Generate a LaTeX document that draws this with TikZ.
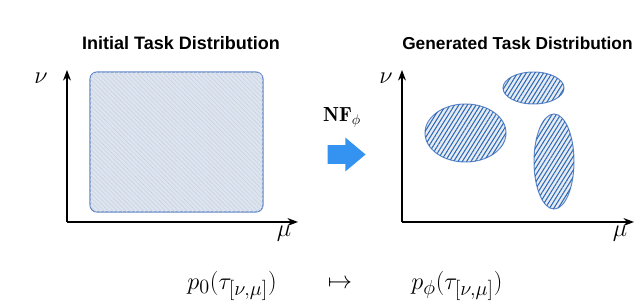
\documentclass[tikz,border=0pt]{standalone}
\usepackage{amsmath}
\usepackage{fontspec}
\newfontfamily\titlefont{Liberation Sans}
\usetikzlibrary{positioning,arrows.meta,shapes.geometric,shapes.arrows,patterns.meta}
\definecolor{boxblue}{RGB}{219,229,244}
\definecolor{edgeblue}{RGB}{95,135,200}
\definecolor{hatchblue}{RGB}{40,105,185}
\definecolor{blobfill}{RGB}{232,236,242}
\definecolor{flowblue}{RGB}{52,146,240}

\begin{document}
\begin{tikzpicture}[
    x=0.025cm, y=-0.025cm,
    >=Stealth,
    axis/.style={->, line width=1pt},
    title/.style={font=\titlefont\bfseries\fontsize{12.8}{15}\selectfont},
    lbl/.style={font=\fontsize{19}{21}\selectfont},
    initbox/.style={
        draw=edgeblue,
        line width=0.8pt,
        rounded corners=5pt,
        fill=boxblue,
        postaction={pattern={Lines[angle=-45,distance=2.2pt,line width=0.4pt]},
                    pattern color=gray!35},
        minimum width=4.325cm,
        minimum height=3.5cm
    },
    blob/.style={
        ellipse,
        draw=edgeblue,
        line width=0.7pt,
        fill=blobfill,
        postaction={pattern={Lines[angle=58,distance=2.6pt,line width=0.75pt]},
                    pattern color=hatchblue},
        inner sep=0pt
    },
    flow/.style={
        single arrow,
        fill=flowblue,
        minimum height=0.95cm,
        minimum width=0.825cm,
        single arrow head extend=0.19cm,
        single arrow tip angle=80,
        inner sep=0.225cm
    }
]
\useasboundingbox (0,0) rectangle (634,308);

% LEFT PANEL
\node[title] (ttlL) at (181,43) {Initial Task Distribution};
\coordinate (oL) at (67,222);
\coordinate (yL) at (67,70);
\coordinate (xL) at (298,222);
\node[initbox] (init) at (176.5,142) {};
\draw[axis] (oL) -- (yL);
\draw[axis] (oL) -- (xL);
\node[lbl] (nuL) at (41,78) {$\nu$};
\node[lbl] (muL) at (284,234) {$\mu$};

% FLOW
\node[font=\fontsize{14.5}{16}\selectfont] (nf) at (342,117) {$\mathbf{NF}_\phi$};
\node[flow] (arrowblk) at (341,154.5) {};

% RIGHT PANEL
\node[title, anchor=west, font=\titlefont\bfseries\fontsize{12.3}{15}\selectfont, inner sep=0pt] (ttlR) at (402,43) {Generated Task Distribution};
\coordinate (oR) at (402,222);
\coordinate (yR) at (402,70);
\coordinate (xR) at (634,222);
\draw[axis] (oR) -- (yR);
\draw[axis] (oR) -- (xR);
\node[lbl] (nuR) at (386,78) {$\nu$};
\node[lbl] (muR) at (620,234) {$\mu$};

\node[blob, minimum width=1.525cm, minimum height=0.8cm] (top) at (533.5,88) {};
\node[blob, minimum width=2.025cm, minimum height=1.45cm] (left) at (465.5,133) {};
\node[blob, minimum width=1.0cm, minimum height=2.375cm] (right) at (554,161.5) {};

% MAPPING
\node[lbl] (p0) at (232,286) {$p_0(\tau_{[\nu,\mu]})$};
\node[lbl] (maps) at (340,284) {$\mapsto$};
\node[lbl] (pphi) at (457,286) {$p_\phi(\tau_{[\nu,\mu]})$};

\end{tikzpicture}
\end{document}
